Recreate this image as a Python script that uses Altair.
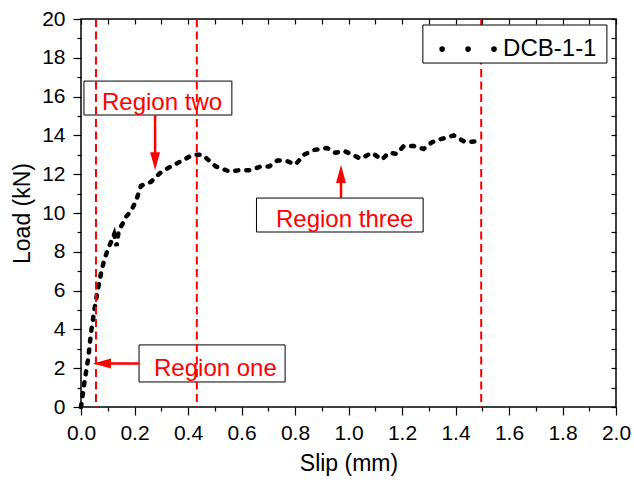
import altair as alt
import pandas as pd

FONT = "Liberation Sans"
RED = "#FF0000"

# ---- main series (Slip in mm, Load in kN) ----
slip = [0.0, 0.005, 0.012, 0.02, 0.028, 0.037, 0.05, 0.062, 0.075, 0.087, 0.1, 0.112,
        0.124, 0.133, 0.14, 0.149, 0.158, 0.168, 0.187, 0.205, 0.224, 0.261, 0.299,
        0.336, 0.379, 0.417, 0.454, 0.504, 0.553, 0.59, 0.634, 0.672, 0.703, 0.734,
        0.765, 0.802, 0.833, 0.871, 0.92, 0.951, 0.983, 1.007, 1.045, 1.088, 1.125,
        1.15, 1.181, 1.206, 1.244, 1.281, 1.312, 1.343, 1.393, 1.437, 1.48]
load = [0.0, 0.5, 1.2, 1.9, 2.6, 3.8, 5.0, 6.0, 6.9, 7.6, 8.1, 8.5,
        8.9, 8.3, 9.0, 9.3, 9.5, 9.8, 10.1, 10.6, 11.4, 11.6, 12.1,
        12.4, 12.7, 13.0, 13.0, 12.4, 12.15, 12.2, 12.2, 12.4, 12.4, 12.7,
        12.7, 12.5, 13.0, 13.25, 13.35, 13.1, 13.2, 13.05, 12.8, 13.1, 12.75,
        13.1, 13.05, 13.45, 13.45, 13.3, 13.65, 13.8, 14.0, 13.65, 13.7]

# ---- region boundaries ----
boundary_x = [0.056, 0.433, 1.496]

# ---- annotations ----
labels = ["Region one", "Region two", "Region three"]
label_x = [0.273, 0.0785, 0.729]
label_y = [1.6, 15.31, 9.28]
box_x1 = [0.217, 0.011, 0.656]
box_x2 = [0.763, 0.564, 1.279]
box_y1 = [1.29, 15.05, 9.02]
box_y2 = [3.2, 16.8, 10.77]
shaft_x1 = [0.217, 0.277, 0.972]
shaft_x2 = [0.10, 0.277, 0.972]
shaft_y1 = [2.24, 15.05, 10.77]
shaft_y2 = [2.24, 13.0, 11.7]
tip_x = [0.045, 0.277, 0.972]
tip_y = [2.24, 12.2, 12.47]
tip_shape = ["M0,0L2,-0.55L2,0.55Z", "M0,0L-0.55,-2L0.55,-2Z", "M0,0L-0.55,2L0.55,2Z"]

# ---- legend ----
legend_name = "DCB-1-1"
legend_box = [1.278, 1.966, 17.73, 19.69]
legend_dot_x = [1.35, 1.447, 1.544]
legend_dot_y = [18.45, 18.45, 18.45]
legend_text_pos = [1.578, 18.09]

x_ticks = [round(i * 0.1, 1) for i in range(21)]
y_ticks = list(range(21))

xs = alt.Scale(domain=[0, 2], nice=False, zero=False)
ys = alt.Scale(domain=[0, 20], nice=False, zero=False)

df = pd.DataFrame({"slip": slip, "load": load})

x_main_axis = alt.Axis(
    orient="bottom", values=x_ticks, grid=False, domain=False,
    labelExpr="round(datum.value*10) % 2 == 1 ? '' : format(datum.value, '.1f')",
    tickSize={"condition": {"test": "round(datum.value*10) % 2 == 1", "value": 4}, "value": 8},
    tickColor="black", tickWidth=1.2, labelColor="black", labelFont=FONT, labelFontSize=21,
    labelPadding=7, labelFlush=False, labelOverlap=False,
    title="Slip (mm)", titleFont=FONT, titleFontSize=23, titleFontWeight="normal",
    titleColor="black", titlePadding=9)
y_main_axis = alt.Axis(
    orient="left", values=y_ticks, grid=False, domain=False,
    labelExpr="datum.value % 2 == 1 ? '' : datum.label",
    tickSize={"condition": {"test": "datum.value % 2 == 1", "value": 4}, "value": 8},
    tickColor="black", tickWidth=1.2, labelColor="black", labelFont=FONT, labelFontSize=21,
    labelPadding=8, labelOverlap=False,
    title="Load (kN)", titleFont=FONT, titleFontSize=23, titleFontWeight="normal",
    titleColor="black", titlePadding=7)
x_top_axis = alt.Axis(orient="top", values=x_ticks, grid=False, domain=False, labels=False,
                      tickSize=5, offset=-5, tickColor="black", tickWidth=1.2, title=None)
y_right_axis = alt.Axis(orient="right", values=y_ticks, grid=False, domain=False, labels=False,
                        tickSize=5, offset=-5, tickColor="black", tickWidth=1.2, title=None)

curve = alt.Chart(df).mark_line(
    color="black", strokeWidth=4.5, strokeDash=[3, 8], strokeCap="round"
).encode(
    x=alt.X("slip:Q", scale=xs, axis=x_main_axis),
    y=alt.Y("load:Q", scale=ys, axis=y_main_axis),
)

frame_axes = alt.Chart(df).mark_point(opacity=0).encode(
    x=alt.X("slip:Q", scale=xs, axis=x_top_axis),
    y=alt.Y("load:Q", scale=ys, axis=y_right_axis),
)

bdf = pd.DataFrame({"bx": boundary_x})
boundaries = alt.Chart(bdf).mark_rule(color=RED, strokeWidth=2, strokeDash=[8, 4.5]).encode(
    x=alt.X("bx:Q", scale=xs, axis=None)
)

adf = pd.DataFrame({
    "label": labels, "lx": label_x, "ly": label_y,
    "bx1": box_x1, "bx2": box_x2, "by1": box_y1, "by2": box_y2,
    "sx1": shaft_x1, "sx2": shaft_x2, "sy1": shaft_y1, "sy2": shaft_y2,
})

boxes = alt.Chart(adf).mark_rect(fill=None, stroke="black", strokeWidth=1).encode(
    x=alt.X("bx1:Q", scale=xs, axis=None), x2="bx2:Q",
    y=alt.Y("by1:Q", scale=ys, axis=None), y2="by2:Q",
)
texts = alt.Chart(adf).mark_text(
    align="left", baseline="alphabetic", color=RED, font=FONT, fontSize=24
).encode(
    x=alt.X("lx:Q", scale=xs, axis=None),
    y=alt.Y("ly:Q", scale=ys, axis=None),
    text="label:N",
)
shafts = alt.Chart(adf).mark_rule(color=RED, strokeWidth=2.5).encode(
    x=alt.X("sx1:Q", scale=xs, axis=None), x2="sx2:Q",
    y=alt.Y("sy1:Q", scale=ys, axis=None), y2="sy2:Q",
)

heads = []
for tx, ty, shp in zip(tip_x, tip_y, tip_shape):
    hdf = pd.DataFrame({"tx": [tx], "ty": [ty]})
    heads.append(
        alt.Chart(hdf).mark_point(shape=shp, size=324, filled=True, color=RED, opacity=1,
                                  strokeWidth=0).encode(
            x=alt.X("tx:Q", scale=xs, axis=None),
            y=alt.Y("ty:Q", scale=ys, axis=None),
        )
    )

ldf = pd.DataFrame({"x1": [legend_box[0]], "x2": [legend_box[1]],
                    "y1": [legend_box[2]], "y2": [legend_box[3]],
                    "tx": [legend_text_pos[0]], "ty": [legend_text_pos[1]],
                    "name": [legend_name]})
legend_rect = alt.Chart(ldf).mark_rect(fill="white", stroke="black", strokeWidth=1).encode(
    x=alt.X("x1:Q", scale=xs, axis=None), x2="x2:Q",
    y=alt.Y("y1:Q", scale=ys, axis=None), y2="y2:Q",
)
legend_txt = alt.Chart(ldf).mark_text(
    align="left", baseline="alphabetic", color="black", font=FONT, fontSize=24
).encode(
    x=alt.X("tx:Q", scale=xs, axis=None),
    y=alt.Y("ty:Q", scale=ys, axis=None),
    text="name:N",
)
dots_df = pd.DataFrame({"dx": legend_dot_x, "dy": legend_dot_y})
legend_dots = alt.Chart(dots_df).mark_point(shape="circle", filled=True, color="black",
                                            size=32, opacity=1).encode(
    x=alt.X("dx:Q", scale=xs, axis=None),
    y=alt.Y("dy:Q", scale=ys, axis=None),
)

chart = alt.layer(
    curve, frame_axes, boxes, boundaries, texts, shafts, *heads,
    legend_rect, legend_txt, legend_dots,
).resolve_axis(
    x="independent", y="independent"
).properties(
    width=535, height=388,
    autosize=alt.AutoSizeParams(type="none"),
    padding={"left": 81, "top": 19, "right": 18, "bottom": 73},
    background="white",
).configure_view(
    stroke="black", strokeWidth=1.5
)

chart.save("out.html", embed_options={"renderer": "svg", "actions": False})
